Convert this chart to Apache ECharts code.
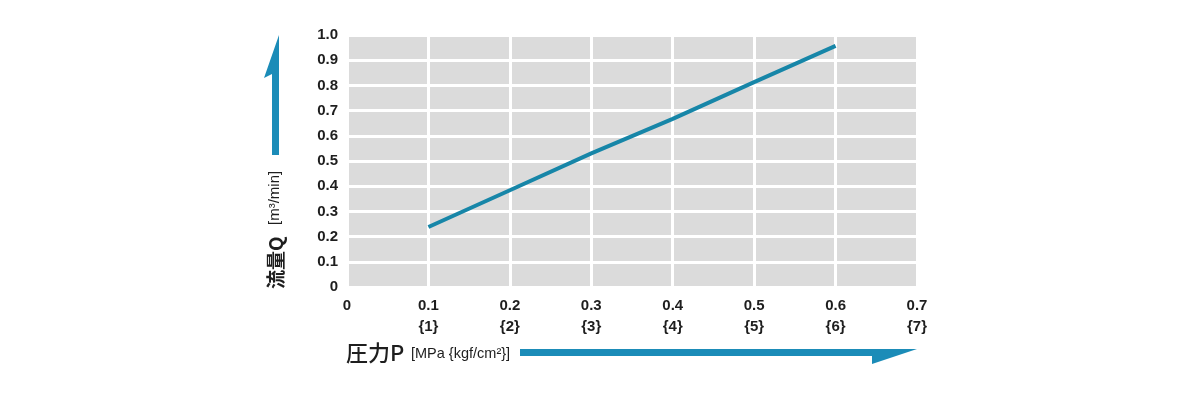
<!DOCTYPE html>
<html>
<head>
<meta charset="utf-8">
<script src="https://cdn.jsdelivr.net/npm/echarts@6/dist/echarts.min.js"></script>
<style>
html,body{margin:0;padding:0;background:#fff;}
#chart{width:1198px;height:400px;}
</style>
</head>
<body>
<div id="chart"></div>
<script>
// ---- data ----
const pressure = [0.1, 0.2, 0.3, 0.4, 0.5, 0.6];          // MPa
const flow = [0.238, 0.384, 0.530, 0.667, 0.813, 0.957];  // m3/min
const xTickMain = ['0', '0.1', '0.2', '0.3', '0.4', '0.5', '0.6', '0.7'];
const xTickSub = ['', '{1}', '{2}', '{3}', '{4}', '{5}', '{6}', '{7}'];
const yTickLabels = ['0', '0.1', '0.2', '0.3', '0.4', '0.5', '0.6', '0.7', '0.8', '0.9', '1.0'];
const yTitleMain = '流量Q';
const yTitleUnit = '[m³/min]';
const xTitleMain = '圧力P';
const xTitleUnit = '[MPa {kgf/cm²}]';

const blue = '#1b8cb8';
const labelFont = {fontFamily: 'Liberation Sans', fontWeight: 'bold', fontSize: 15, color: '#1e1e1e'};

const chart = echarts.init(document.getElementById('chart'), null, {renderer: 'canvas'});
chart.setOption({
  animation: false,
  backgroundColor: '#ffffff',
  grid: {left: 347, right: 281, top: 35, bottom: 113, show: true, backgroundColor: '#dbdbdb', borderWidth: 0, containLabel: false},
  xAxis: {
    type: 'value', min: 0, max: 0.7, interval: 0.1,
    axisLine: {show: false}, axisTick: {show: false},
    splitLine: {show: true, lineStyle: {color: '#ffffff', width: 3}},
    axisLabel: Object.assign({}, labelFont, {
      margin: 8, lineHeight: 21, verticalAlign: 'top',
      formatter: function (v) {
        const i = Math.round(v * 10);
        return xTickSub[i] ? xTickMain[i] + '\n' + xTickSub[i] : xTickMain[i];
      }
    })
  },
  yAxis: {
    type: 'value', min: 0, max: 1, interval: 0.1,
    axisLine: {show: false}, axisTick: {show: false},
    splitLine: {show: true, lineStyle: {color: '#ffffff', width: 3}},
    axisLabel: Object.assign({}, labelFont, {
      margin: 9,
      formatter: function (v) { return yTickLabels[Math.round(v * 10)]; }
    })
  },
  series: [{
    type: 'line',
    data: pressure.map((p, i) => [p, flow[i]]),
    symbol: 'none',
    lineStyle: {color: '#1786a8', width: 4, cap: 'butt'},
    z: 5
  }],
  graphic: [
    // vertical arrow (y axis)
    {type: 'polygon', shape: {points: [[272, 155], [279, 155], [279, 35], [264, 78], [272, 74]]}, style: {fill: blue}, silent: true},
    // horizontal arrow (x axis)
    {type: 'polygon', shape: {points: [[520, 349], [917, 349], [872, 364], [872, 356], [520, 356]]}, style: {fill: blue}, silent: true},
    // y title
    {type: 'text', x: 276, y: 289, rotation: Math.PI / 2,
      style: {text: yTitleMain, fontFamily: 'Noto Sans CJK JP', fontWeight: 'bold', fontSize: 19, fill: '#1e1e1e', align: 'left', verticalAlign: 'middle'}},
    {type: 'text', x: 275, y: 225, rotation: Math.PI / 2,
      style: {text: yTitleUnit, fontFamily: 'Liberation Sans', fontSize: 15, fill: '#1e1e1e', align: 'left', verticalAlign: 'middle'}},
    // x title
    {type: 'text', x: 346, y: 353,
      style: {text: xTitleMain, fontFamily: 'Noto Sans CJK JP', fontWeight: 500, fontSize: 22, fill: '#1e1e1e', align: 'left', verticalAlign: 'middle'}},
    {type: 'text', x: 411, y: 354,
      style: {text: xTitleUnit, fontFamily: 'Liberation Sans', fontSize: 14.5, fill: '#1e1e1e', align: 'left', verticalAlign: 'middle'}}
  ]
});
</script>
</body>
</html>
